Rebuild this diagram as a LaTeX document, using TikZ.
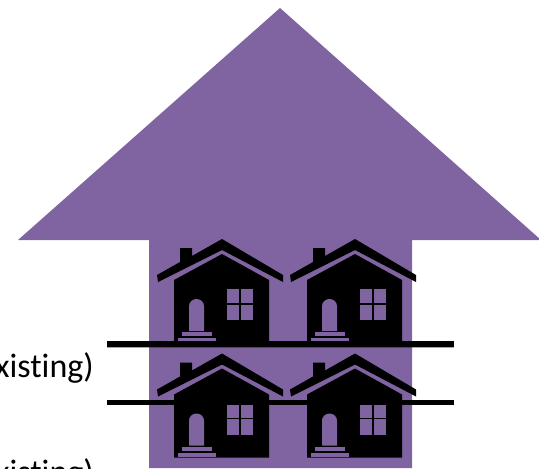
\documentclass[tikz,border=0pt]{standalone}
\usepackage{fontspec}
\setmainfont[Ligatures=CommonOff]{Carlito}
\usepackage{xcolor}
\definecolor{arrowpurple}{HTML}{8064A2}
\newcommand{\onehouse}[2]{%
  \begin{scope}[shift={(#1,#2)}]
    % roof and chimney
    \fill[black] (-65,36) -- (-42,23) -- (-42,9) -- (-30,9) -- (-30,17) -- (0,0)
      -- (61,36) -- (61,43) -- (0,11) -- (-64,43) -- cycle;
    % body
    \fill[black] (-48,41) -- (0,15) -- (47,41) -- (47,104) -- (-48,104) -- cycle;
    % door
    \fill[arrowpurple] (-33,92) -- (-33,67) arc[start angle=180,end angle=360,x radius=7.5,y radius=7] -- (-18,92) -- cycle;
    % steps
    \fill[arrowpurple] (-40,93) rectangle (-10,97);
    \fill[arrowpurple] (-44,99) rectangle (-6,103);
    % window
    \fill[arrowpurple] (5,50) rectangle (31,81);
    \draw[black, line width=1pt] (18,50) -- (18,81);
    \draw[black, line width=1pt] (5,65) -- (31,65);
  \end{scope}
}

\begin{document}
\begin{tikzpicture}[x=0.75pt,y=-0.75pt,
    lbl/.style={font=\fontsize{25.5}{28}\selectfont, text=black, anchor=base east, inner sep=0pt},
    floorline/.style={draw=black, line width=4pt},
  ]
  \useasboundingbox (0,0) rectangle (539,468);

  % Arrow
  \fill[arrowpurple] (280,8) -- (541,240) -- (412,240) -- (412,468) -- (149,468)
    -- (149,240) -- (18,240) -- cycle;

  % Houses
  \onehouse{222}{239}
  \onehouse{355}{239}
  \onehouse{222}{353.5}
  \onehouse{355}{353.5}

  % Floors
  \coordinate (floorAleft) at (107,344);
  \coordinate (floorAright) at (454,344);
  \coordinate (floorBleft) at (107,402.5);
  \coordinate (floorBright) at (454,402.5);
  \draw[black, opacity=0.35, line width=1pt] (107,347) -- (454,347);
  \draw[floorline] (floorAleft) -- (floorAright);
  \draw[floorline] (floorBleft) -- (floorBright);

  % Labels
  \node[lbl] (lblupper) at (94,377) {xisting)};
  \node[lbl] (lbllower) at (94,483) {xisting)};
\end{tikzpicture}
\end{document}
